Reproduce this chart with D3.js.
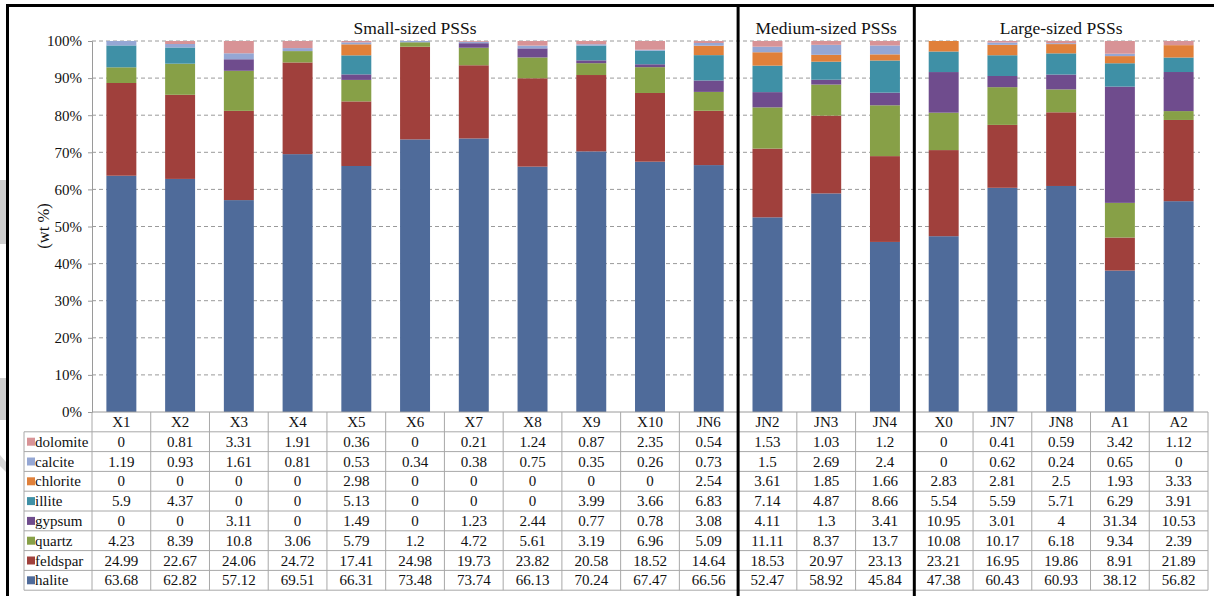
<!DOCTYPE html>
<html><head><meta charset="utf-8">
<script src="https://cdn.jsdelivr.net/npm/d3@7"></script>
<style>
body{margin:0;background:#fff}
svg text{font-family:"Liberation Serif","DejaVu Serif","Times New Roman",serif;fill:#111}
</style>
</head><body>
<svg id="c" width="1214" height="596" font-family="Liberation Serif, serif"></svg>
<script>
const samples = ["X1","X2","X3","X4","X5","X6","X7","X8","X9","X10","JN6","JN2","JN3","JN4","X0","JN7","JN8","A1","A2"];
const minerals = ["halite","feldspar","quartz","gypsum","illite","chlorite","calcite","dolomite"];
const halite   = [63.68,62.82,57.12,69.51,66.31,73.48,73.74,66.13,70.24,67.47,66.56,52.47,58.92,45.84,47.38,60.43,60.93,38.12,56.82];
const feldspar = [24.99,22.67,24.06,24.72,17.41,24.98,19.73,23.82,20.58,18.52,14.64,18.53,20.97,23.13,23.21,16.95,19.86,8.91,21.89];
const quartz   = [4.23,8.39,10.8,3.06,5.79,1.2,4.72,5.61,3.19,6.96,5.09,11.11,8.37,13.7,10.08,10.17,6.18,9.34,2.39];
const gypsum   = [0,0,3.11,0,1.49,0,1.23,2.44,0.77,0.78,3.08,4.11,1.3,3.41,10.95,3.01,4,31.34,10.53];
const illite   = [5.9,4.37,0,0,5.13,0,0,0,3.99,3.66,6.83,7.14,4.87,8.66,5.54,5.59,5.71,6.29,3.91];
const chlorite = [0,0,0,0,2.98,0,0,0,0,0,2.54,3.61,1.85,1.66,2.83,2.81,2.5,1.93,3.33];
const calcite  = [1.19,0.93,1.61,0.81,0.53,0.34,0.38,0.75,0.35,0.26,0.73,1.5,2.69,2.4,0,0.62,0.24,0.65,0];
const dolomite = [0,0.81,3.31,1.91,0.36,0,0.21,1.24,0.87,2.35,0.54,1.53,1.03,1.2,0,0.41,0.59,3.42,1.12];
const groupNames = ["Small-sized PSSs","Medium-sized PSSs","Large-sized PSSs"];
const groupSizes = [11,3,5];
const yTicks = [0,0.1,0.2,0.3,0.4,0.5,0.6,0.7,0.8,0.9,1];
const colors = ["#4F6B9A","#A0403C","#87A047","#6F4C8D","#3F90A6","#E0803A","#95A7D4","#D89396"];

const seriesData = {halite,feldspar,quartz,gypsum,illite,chlorite,calcite,dolomite};
const rows = samples.map((s,i)=>{const o={sample:s}; minerals.forEach(m=>o[m]=seriesData[m][i]); return o;});

const svg = d3.select("#c");
const L = 92, R = 1208, T = 41, B = 412;
const rowH = 19.8;
const tableLeft = 24;
const FONT = "Liberation Serif, DejaVu Serif, serif";

// left edge background artifacts
svg.append("rect").attr("x",0).attr("y",180).attr("width",6).attr("height",64).attr("fill","#cfcfcf");
svg.append("rect").attr("x",0).attr("y",378).attr("width",6).attr("height",42).attr("fill","#cfcfcf");
svg.append("path").attr("d","M0,455 L6,462 L6,472 L0,466 Z").attr("fill","#d6d6d6");

const x = d3.scaleBand().domain(samples).range([L,R]).paddingInner(0.49).paddingOuter(0.245);
const xCol = d3.scaleBand().domain(samples).range([L,R]);
const y = d3.scaleLinear().domain([0,1]).range([B,T]);

// gridlines
svg.append("g").selectAll("line").data(yTicks.filter(t=>t>0)).join("line")
  .attr("x1",L).attr("x2",1200).attr("y1",d=>y(d)).attr("y2",d=>y(d))
  .attr("stroke","#9a9a9a").attr("stroke-width",1).attr("stroke-dasharray","4,3");

// stacked bars
const stack = d3.stack().keys(minerals).offset(d3.stackOffsetExpand);
const stacked = stack(rows);
svg.append("g").selectAll("g").data(stacked).join("g")
  .attr("fill",(d,i)=>colors[i])
  .selectAll("rect").data(d=>d).join("rect")
  .attr("x",d=>x(d.data.sample)).attr("width",x.bandwidth())
  .attr("y",d=>y(d[1])).attr("height",d=>Math.max(0,y(d[0])-y(d[1])));

// y axis
const yAxis = d3.axisLeft(y).tickValues(yTicks).tickFormat(d3.format(".0%")).tickSize(4).tickPadding(6);
const ga = svg.append("g").attr("transform",`translate(${L},0)`).call(yAxis);
ga.attr("font-family",FONT).attr("font-size",15);
ga.select(".domain").attr("stroke","#9a9a9a");
ga.selectAll(".tick line").attr("stroke","#9a9a9a");
ga.selectAll("text").attr("fill","#111");

svg.append("text").attr("transform","translate(49,226) rotate(-90)").attr("text-anchor","middle")
  .attr("font-size",16.5).text("(wt %)");

// table
const tg = svg.append("g").attr("font-size",15);
const nRows = minerals.length;
const tableBottom = B + rowH*(nRows+1);
const gridStroke = "#a8a8a8";
tg.selectAll("text.hdr").data(samples).join("text").attr("class","hdr")
  .attr("x",d=>xCol(d)+xCol.bandwidth()/2).attr("y",B+rowH/2+5)
  .attr("text-anchor","middle").text(d=>d);
const tableOrder = minerals.slice().reverse();
tableOrder.forEach((m,ri)=>{
  const yy = B + rowH*(ri+1);
  const ci = minerals.indexOf(m);
  tg.append("rect").attr("x",tableLeft+3).attr("y",yy+rowH/2-4).attr("width",8).attr("height",8).attr("fill",colors[ci]);
  tg.append("text").attr("x",tableLeft+11).attr("y",yy+rowH/2+5).text(m);
  tg.selectAll(null).data(samples).join("text")
    .attr("x",d=>xCol(d)+xCol.bandwidth()/2).attr("y",yy+rowH/2+5)
    .attr("text-anchor","middle")
    .text((d,i)=>String(seriesData[m][i]));
});
for(let r=0;r<=nRows+1;r++){
  const yy = B + rowH*r;
  tg.append("line").attr("x1", r===0? L : tableLeft).attr("x2",R).attr("y1",yy).attr("y2",yy)
    .attr("stroke", r===0 ? "#9a9a9a" : gridStroke).attr("stroke-width",1);
}
const vx = [L].concat(samples.map(s=>xCol(s)+xCol.bandwidth()));
vx.forEach(v=>{
  tg.append("line").attr("x1",v).attr("x2",v).attr("y1",B).attr("y2",tableBottom).attr("stroke",gridStroke);
});
tg.append("line").attr("x1",tableLeft).attr("x2",tableLeft).attr("y1",B+rowH).attr("y2",tableBottom).attr("stroke",gridStroke);

// group separators and titles
let start = 0;
groupNames.forEach((g,gi)=>{
  const s0 = samples[start], s1 = samples[start+groupSizes[gi]-1];
  const x0 = xCol(s0), x1 = xCol(s1)+xCol.bandwidth();
  svg.append("text").attr("x",(x0+x1)/2).attr("y",34).attr("text-anchor","middle")
    .attr("font-size",17.5).text(g);
  if(gi>0){
    svg.append("line").attr("x1",x0).attr("x2",x0).attr("y1",5).attr("y2",596).attr("stroke","#000").attr("stroke-width",3);
  }
  start += groupSizes[gi];
});

// frame
svg.append("line").attr("x1",6).attr("x2",1214).attr("y1",5.5).attr("y2",5.5).attr("stroke","#000").attr("stroke-width",3);
svg.append("line").attr("x1",7.5).attr("x2",7.5).attr("y1",4).attr("y2",596).attr("stroke","#000").attr("stroke-width",3);
</script>
</body></html>
